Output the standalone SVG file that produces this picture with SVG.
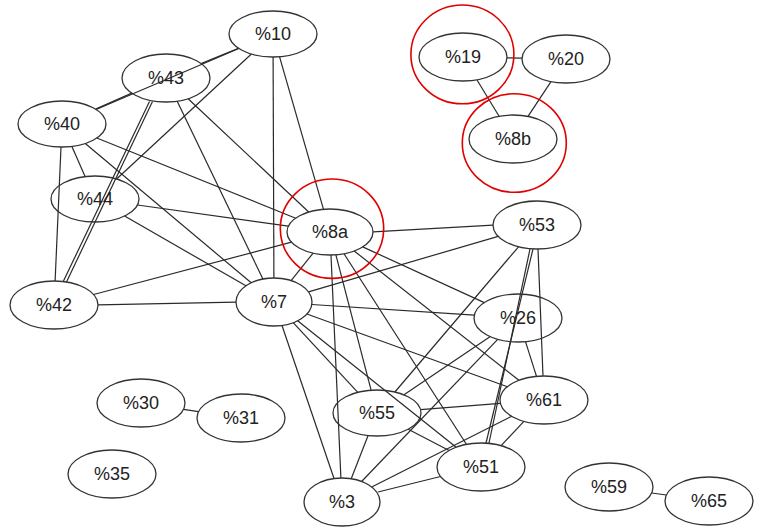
<svg xmlns="http://www.w3.org/2000/svg" width="761" height="530" viewBox="0 0 761 530">
<style>
.e{stroke:#2a2a2a;stroke-width:1.2;fill:none}
.n ellipse{fill:none;stroke:#333;stroke-width:1.3}
.n text{font-family:"Liberation Sans",Arial,sans-serif;font-size:18px;fill:#222;text-anchor:middle}
.hl{fill:none;stroke:#e00000;stroke-width:1.6}
</style>
<rect width="761" height="530" fill="#fff"/>
<g id="edges">
<line class="e" x1="238.4" y1="48.2" x2="201.1" y2="63.6"/>
<line class="e" x1="238.9" y1="48.5" x2="96.1" y2="109.5"/>
<line class="e" x1="131.8" y1="93.1" x2="95.6" y2="109.1"/>
<line class="e" x1="251.4" y1="54" x2="116.6" y2="179"/>
<line class="e" x1="273.1" y1="57" x2="273.9" y2="278"/>
<line class="e" x1="279.5" y1="56.7" x2="323.5" y2="209.3"/>
<line class="e" x1="149.5" y1="101.5" x2="63" y2="282"/>
<line class="e" x1="152.5" y1="101.5" x2="66.5" y2="282"/>
<line class="e" x1="188.1" y1="98.8" x2="308.7" y2="212"/>
<line class="e" x1="177.2" y1="101.2" x2="262.9" y2="279"/>
<line class="e" x1="71.9" y1="146.4" x2="85.1" y2="176.6"/>
<line class="e" x1="61" y1="147" x2="55.1" y2="281"/>
<line class="e" x1="96.8" y1="138" x2="295.7" y2="218.2"/>
<line class="e" x1="85.3" y1="143.5" x2="251.2" y2="282.8"/>
<line class="e" x1="137.5" y1="205" x2="288.4" y2="226.2"/>
<line class="e" x1="124.6" y1="216" x2="245.9" y2="285.8"/>
<line class="e" x1="93.6" y1="294.5" x2="291.5" y2="242.2"/>
<line class="e" x1="98" y1="304.9" x2="236" y2="302.1"/>
<line class="e" x1="291.1" y1="280.6" x2="313.1" y2="253.1"/>
<line class="e" x1="373" y1="231.8" x2="493" y2="225.1"/>
<line class="e" x1="308.5" y1="291.9" x2="498.2" y2="236.3"/>
<line class="e" x1="311.8" y1="304.5" x2="474.3" y2="315.1"/>
<line class="e" x1="306.9" y1="314" x2="507.4" y2="386.7"/>
<line class="e" x1="293.2" y1="322.7" x2="357.8" y2="392.3"/>
<line class="e" x1="282" y1="325.5" x2="334" y2="478.5"/>
<line class="e" x1="297.6" y1="320.8" x2="456.2" y2="447.2"/>
<line class="e" x1="331" y1="255" x2="340.9" y2="478"/>
<line class="e" x1="335.9" y1="254.8" x2="371.1" y2="390.2"/>
<line class="e" x1="344" y1="253.8" x2="466.4" y2="444.3"/>
<line class="e" x1="354.2" y1="251" x2="518.9" y2="380.3"/>
<line class="e" x1="362.7" y1="246.9" x2="484.3" y2="302.6"/>
<line class="e" x1="518.5" y1="246.8" x2="394.9" y2="392"/>
<line class="e" x1="533" y1="249" x2="486" y2="443"/>
<line class="e" x1="530" y1="249" x2="489" y2="443"/>
<line class="e" x1="538" y1="249" x2="543" y2="376"/>
<line class="e" x1="525.5" y1="341.6" x2="536.5" y2="376.4"/>
<line class="e" x1="490.3" y1="336.6" x2="404" y2="394.8"/>
<line class="e" x1="497.7" y1="339.3" x2="361.6" y2="481.5"/>
<line class="e" x1="420.5" y1="409.6" x2="500.4" y2="403.4"/>
<line class="e" x1="408.2" y1="429.2" x2="449.1" y2="450.5"/>
<line class="e" x1="368.1" y1="435.5" x2="351.2" y2="478.7"/>
<line class="e" x1="523.9" y1="421.4" x2="501.1" y2="445.6"/>
<line class="e" x1="511.7" y1="416.3" x2="371.7" y2="487"/>
<line class="e" x1="440.5" y1="476.5" x2="378" y2="492"/>
<line class="e" x1="507" y1="57.9" x2="522" y2="58.1"/>
<line class="e" x1="477" y1="80" x2="499.1" y2="116.2"/>
<line class="e" x1="551" y1="81.6" x2="528" y2="116.4"/>
<line class="e" x1="183.4" y1="409.4" x2="198.6" y2="411.6"/>
<line class="e" x1="651.6" y1="493" x2="666.4" y2="495"/>
</g>
<g id="n10" class="n"><ellipse cx="273" cy="34" rx="44" ry="23"/><text x="273" y="39.5">%10</text></g>
<g id="n43" class="n"><ellipse cx="166" cy="78" rx="44" ry="24"/><text x="166" y="83.5">%43</text></g>
<g id="n40" class="n"><ellipse cx="62" cy="124" rx="44" ry="23"/><text x="62" y="129.5">%40</text></g>
<g id="n44" class="n"><ellipse cx="95" cy="199" rx="44" ry="23"/><text x="95" y="204.5">%44</text></g>
<g id="n8a" class="n"><ellipse cx="330" cy="232" rx="43" ry="23"/><text x="330" y="237.5">%8a</text></g>
<g id="n19" class="n"><ellipse cx="463" cy="57" rx="44" ry="24"/><text x="463" y="62.5">%19</text></g>
<g id="n20" class="n"><ellipse cx="566" cy="59" rx="44" ry="24"/><text x="566" y="64.5">%20</text></g>
<g id="n8b" class="n"><ellipse cx="513" cy="139" rx="44" ry="24"/><text x="513" y="144.5">%8b</text></g>
<g id="n53" class="n"><ellipse cx="537" cy="225" rx="44" ry="24"/><text x="537" y="230.5">%53</text></g>
<g id="n42" class="n"><ellipse cx="54" cy="305" rx="44" ry="24"/><text x="54" y="310.5">%42</text></g>
<g id="n7" class="n"><ellipse cx="274" cy="302" rx="38" ry="24"/><text x="274" y="307.5">%7</text></g>
<g id="n26" class="n"><ellipse cx="518" cy="318" rx="44" ry="24"/><text x="518" y="323.5">%26</text></g>
<g id="n30" class="n"><ellipse cx="141" cy="403" rx="44" ry="24"/><text x="141" y="408.5">%30</text></g>
<g id="n31" class="n"><ellipse cx="241" cy="418" rx="44" ry="24"/><text x="241" y="423.5">%31</text></g>
<g id="n55" class="n"><ellipse cx="377" cy="413" rx="44" ry="23"/><text x="377" y="418.5">%55</text></g>
<g id="n61" class="n"><ellipse cx="544" cy="400" rx="44" ry="24"/><text x="544" y="405.5">%61</text></g>
<g id="n51" class="n"><ellipse cx="481" cy="467" rx="44" ry="24"/><text x="481" y="472.5">%51</text></g>
<g id="n35" class="n"><ellipse cx="112" cy="474" rx="44" ry="24"/><text x="112" y="479.5">%35</text></g>
<g id="n3" class="n"><ellipse cx="342" cy="502" rx="38" ry="24"/><text x="342" y="507.5">%3</text></g>
<g id="n59" class="n"><ellipse cx="609" cy="487" rx="44" ry="24"/><text x="609" y="492.5">%59</text></g>
<g id="n65" class="n"><ellipse cx="709" cy="501" rx="44" ry="24"/><text x="709" y="506.5">%65</text></g>
<g id="highlights">
<ellipse class="hl" cx="332" cy="228.7" rx="51.7" ry="49.7"/>
<ellipse class="hl" cx="462.4" cy="54.4" rx="51.5" ry="49.4"/>
<ellipse class="hl" cx="514.3" cy="143" rx="52" ry="49.3"/>
</g>
</svg>
